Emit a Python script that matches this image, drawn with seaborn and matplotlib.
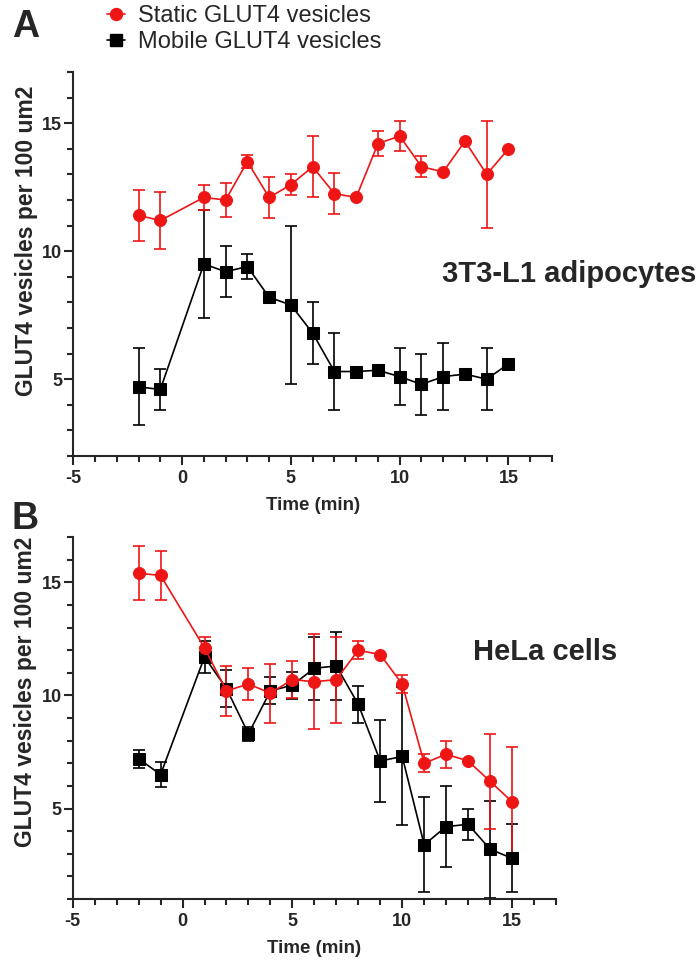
import numpy as np
import matplotlib
matplotlib.use("Agg")
import matplotlib.pyplot as plt
from matplotlib.ticker import MultipleLocator
from matplotlib.lines import Line2D
import seaborn as sns

# Time points (min); no measurement at 0
time = [-2, -1, 1, 2, 3, 4, 5, 6, 7, 8, 9, 10, 11, 12, 13, 14, 15]

# Panel A: 3T3-L1 adipocytes
static_a = [11.4, 11.2, 12.1, 12.0, 13.5, 12.1, 12.6, 13.3, 12.25, 12.1, 14.2, 14.5, 13.3, 13.1, 14.3, 13.0, 14.0]
static_a_err = [1.0, 1.1, 0.5, 0.65, 0.25, 0.8, 0.4, 1.2, 0.8, 0, 0.5, 0.6, 0.4, 0, 0, 2.1, 0]
mobile_a = [4.7, 4.6, 9.5, 9.2, 9.4, 8.2, 7.9, 6.8, 5.3, 5.3, 5.35, 5.1, 4.8, 5.1, 5.2, 5.0, 5.6]
mobile_a_err = [1.5, 0.8, 2.1, 1.0, 0.5, 0, 3.1, 1.2, 1.5, 0, 0, 1.1, 1.2, 1.3, 0, 1.2, 0]

# Panel B: HeLa cells
static_b = [15.4, 15.3, 12.1, 10.2, 10.5, 10.1, 10.7, 10.6, 10.7, 12.0, 11.8, 10.5, 7.0, 7.4, 7.1, 6.2, 5.3]
static_b_err = [1.2, 1.1, 0.5, 1.1, 0.7, 1.3, 0.8, 2.1, 1.9, 0.4, 0, 0.4, 0.4, 0.6, 0, 2.1, 2.4]
mobile_b = [7.2, 6.5, 11.7, 10.3, 8.3, 10.2, 10.45, 11.2, 11.3, 9.6, 7.1, 7.3, 3.4, 4.2, 4.3, 3.2, 2.8]
mobile_b_err = [0.4, 0.55, 0.7, 0.8, 0.3, 0.6, 0.6, 1.4, 1.5, 0.8, 1.8, 3.05, 2.1, 1.8, 0.7, 2.15, 1.5]

RED = "#ee1515"
BLACK = "black"

sns.set_style("ticks")
plt.rcParams['font.family'] = ['Liberation Sans', 'DejaVu Sans']
plt.rcParams['font.weight'] = 'bold'
plt.rcParams['axes.unicode_minus'] = False

W, H = 697, 961
fig = plt.figure(figsize=(W / 100, H / 100), dpi=100)


def px_axes(left, right, top, bottom):
    return fig.add_axes([left / W, 1 - bottom / H, (right - left) / W, (bottom - top) / H])


def draw_series(ax, y, err, color, marker, ms):
    sns.lineplot(x=time, y=y, ax=ax, color=color, marker=marker, markersize=ms,
                 markeredgecolor=color, linewidth=1.2, zorder=3)
    x = np.array(time)
    y = np.array(y)
    e = np.array(err)
    m = e > 0
    ax.errorbar(x[m], y[m], yerr=e[m], fmt='none', ecolor=color, elinewidth=1.2,
                capsize=4.6, capthick=1.2, zorder=2)


def style_axes(ax, ymin, label_y):
    ax.set_xlim(-5, 17)
    ax.set_ylim(ymin, 17)
    ax.xaxis.set_major_locator(MultipleLocator(5))
    ax.xaxis.set_minor_locator(MultipleLocator(1))
    ax.yaxis.set_major_locator(MultipleLocator(5))
    ax.yaxis.set_minor_locator(MultipleLocator(1))
    ax.tick_params(which='major', length=6.5, width=1.5, labelsize=13)
    ax.tick_params(which='minor', length=4, width=1.5)
    ax.tick_params(axis='x', pad=3.5)
    ax.tick_params(axis='y', pad=1.5)
    for s in ['left', 'bottom']:
        ax.spines[s].set_linewidth(1.5)
    sns.despine(ax=ax)
    ax.set_xlabel('Time (min)', fontsize=13.5, fontweight='bold', labelpad=7)
    ax.set_ylabel('GLUT4 vesicles per 100 um2', fontsize=16.5, fontweight='bold')
    ax.yaxis.set_label_coords(-35 / 480, label_y)


# Panel A
ax1 = px_axes(73.3, 552, 72, 456)
draw_series(ax1, mobile_a, mobile_a_err, BLACK, 's', 8)
draw_series(ax1, static_a, static_a_err, RED, 'o', 8.6)
style_axes(ax1, 2, 0.561)

# Panel B
ax2 = px_axes(72.7, 556, 537, 899)
draw_series(ax2, mobile_b, mobile_b_err, BLACK, 's', 8)
draw_series(ax2, static_b, static_b_err, RED, 'o', 8.6)
style_axes(ax2, 1, 0.572)

# Panel letters and cell type labels
fig.text(12 / W, 1 - 37 / H, 'A', fontsize=27, fontweight='bold', va='baseline')
fig.text(12 / W, 1 - 529 / H, 'B', fontsize=27, fontweight='bold', va='baseline')
fig.text(442 / W, 1 - 281.5 / H, '3T3-L1 adipocytes', fontsize=21, fontweight='bold', va='baseline')
fig.text(473 / W, 1 - 660.5 / H, 'HeLa cells', fontsize=21, fontweight='bold', va='baseline')

# Legend
handles = [
    Line2D([], [], color=RED, marker='o', markersize=8.6, linewidth=1.2),
    Line2D([], [], color=BLACK, marker='s', markersize=8, linewidth=1.2),
]
fig.legend(handles, ['Static GLUT4 vesicles', 'Mobile GLUT4 vesicles'],
           loc='upper left', bbox_to_anchor=(107 / W, 1 - 5 / H), frameon=False,
           prop={'size': 17, 'weight': 'normal'}, handlelength=0.76,
           handletextpad=0.55, labelspacing=0.18, borderpad=0, borderaxespad=0)

fig.savefig('out.png', dpi=100)
